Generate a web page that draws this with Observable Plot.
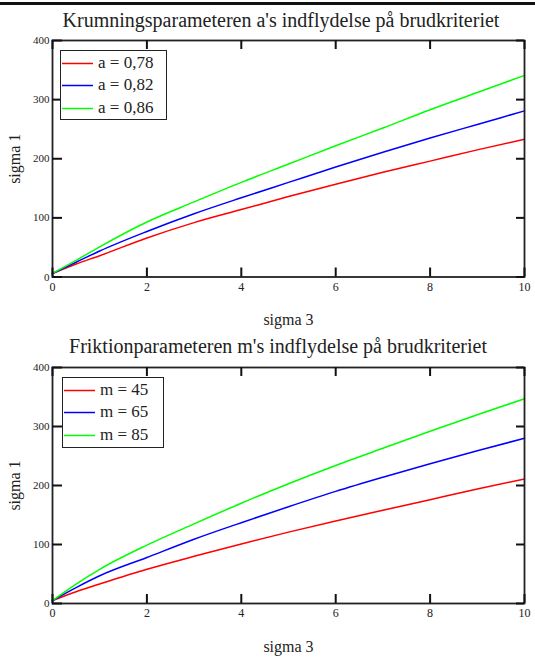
<!DOCTYPE html>
<html><head><meta charset="utf-8">
<script src="https://cdn.jsdelivr.net/npm/d3@7"></script>
<script src="https://cdn.jsdelivr.net/npm/@observablehq/plot@0.6"></script>
<style>
body{margin:0;background:#fff;width:535px;height:659px;overflow:hidden;position:relative;font-family:"Liberation Serif","DejaVu Serif",serif;color:#222}
.bar{position:absolute;left:0;top:2px;width:535px;height:3px;background:#111}
.title{position:absolute;left:0;width:562px;text-align:center;font-size:20px;line-height:20px;white-space:nowrap;font-family:"Liberation Serif",serif}
.chart{position:absolute;left:0;width:535px}
.chart text{font-family:"Liberation Serif",serif}
.legend{position:absolute;background:#fff;border:1.5px solid #222;box-sizing:border-box;font-size:17px;font-family:"Liberation Serif",serif}
.row{position:absolute;left:0;height:22px;line-height:22px;white-space:nowrap}
.row svg{position:absolute;left:1px;top:10px}
.row span{position:absolute;left:37px;top:0}
</style>
</head><body>
<div class="bar"></div>
<div class="title" id="t1" style="top:10px"></div>
<div class="chart" id="c1" style="top:30px"></div>
<div class="title" id="t2" style="top:336px;width:556px"></div>
<div class="chart" id="c2" style="top:357px"></div>
<div class="legend" id="l1" style="left:60px;top:50px;width:107px;height:70px"></div>
<div class="legend" id="l2" style="left:62px;top:377px;width:102px;height:71px"></div>
<script>
// ---- data ----
const title1 = "Krumningsparameteren a's indflydelse på brudkriteriet";
const title2 = "Friktionparameteren m's indflydelse på brudkriteriet";
const xLabel = "sigma 3";
const yLabel = "sigma 1";
const xTicks = [0, 2, 4, 6, 8, 10];
const yTicks = [0, 100, 200, 300, 400];
const colors = ["#ff0000", "#0000ff", "#00ff00"];

const sigma3 = [0, 0.5, 1, 2, 3, 4, 5, 6, 7, 8, 9, 10];

const seriesA = ["a = 0,78", "a = 0,82", "a = 0,86"];
const a078 = [6, 22, 36, 66, 92, 114, 136, 157, 177, 196, 215, 233];
const a082 = [6, 25, 44, 77, 107, 134, 160, 186, 211, 235, 258, 281];
const a086 = [6, 28, 51, 93, 127, 160, 191, 222, 252, 283, 312, 341];

const seriesM = ["m = 45", "m = 65", "m = 85"];
const m45 = [5, 20, 33, 58, 80, 101, 121, 140, 158, 176, 194, 211];
const m65 = [5, 27, 47, 78, 109, 137, 164, 190, 214, 237, 259, 280];
const m85 = [5, 33, 58, 99, 135, 170, 203, 234, 263, 292, 320, 347];

function toRows(names, arrays) {
  const rows = [];
  names.forEach((n, i) => sigma3.forEach((x, j) => rows.push({s: n, x, y: arrays[i][j]})));
  return rows;
}

const serif = '"Liberation Serif","DejaVu Serif",serif';
const W = 535, ML = 52, MR = 11, MT = 10;

function makeChart(names, arrays, height, marginBottom) {
  const ih = height - MT - marginBottom;  // inner plot height
  const iw = W - ML - MR;                 // inner plot width
  const tk = {stroke: "#111", strokeWidth: 2};
  return Plot.plot({
    width: W, height,
    marginLeft: ML, marginRight: MR, marginTop: MT, marginBottom,
    style: {fontFamily: serif, color: "#222", background: "transparent", overflow: "visible"},
    x: {domain: [0, 10]},
    y: {domain: [0, 400]},
    color: {domain: names, range: colors},
    marks: [
      Plot.line(toRows(names, arrays), {x: "x", y: "y", z: "s", stroke: "s", strokeWidth: 1.5, curve: "monotone-x"}),
      Plot.frame({stroke: "#222", strokeWidth: 1.8}),
      // inward tick marks on all four sides
      Plot.tickX(xTicks, {x: d => d, insetTop: ih - 9, ...tk}),
      Plot.tickX(xTicks, {x: d => d, insetBottom: ih - 9, ...tk}),
      Plot.tickY(yTicks, {y: d => d, insetRight: iw - 10, ...tk}),
      Plot.tickY(yTicks, {y: d => d, insetLeft: iw - 8, ...tk}),
      // tick labels and axis titles
      Plot.axisX({anchor: "bottom", ticks: xTicks, tickSize: 0, tickPadding: 5, fontSize: 12,
        label: xLabel, labelAnchor: "center", labelArrow: "none", labelOffset: 48}),
      Plot.axisY({anchor: "left", ticks: yTicks, tickSize: 0, tickPadding: 3, fontSize: 11,
        label: yLabel, labelAnchor: "center", labelArrow: "none", labelOffset: 44})
    ]
  });
}

function styleLabels(svg) {
  svg.querySelectorAll("text").forEach(t => t.setAttribute("font-family", serif));
  svg.querySelectorAll("g[aria-label='x-axis label'] text, g[aria-label='y-axis label'] text").forEach(t => t.setAttribute("font-size", "16"));
  return svg;
}

function makeLegend(el, names) {
  names.forEach((n, i) => {
    const r = document.createElement("div");
    r.className = "row";
    r.style.top = (1 + i * 22.3) + "px";
    r.innerHTML = `<svg width="32" height="3"><line x1="0" x2="31" y1="1.5" y2="1.5" stroke="${colors[i]}" stroke-width="1.5"/></svg><span>${n}</span>`;
    el.appendChild(r);
  });
}

document.getElementById("t1").textContent = title1;
document.getElementById("t2").textContent = title2;
document.getElementById("c1").appendChild(styleLabels(makeChart(seriesA, [a078, a082, a086], 310, 63.5)));
document.getElementById("c2").appendChild(styleLabels(makeChart(seriesM, [m45, m65, m85], 302, 56)));
makeLegend(document.getElementById("l1"), seriesA);
makeLegend(document.getElementById("l2"), seriesM);
</script>
</body></html>
